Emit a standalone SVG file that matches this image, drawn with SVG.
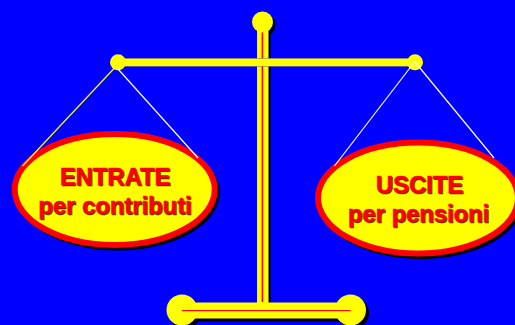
<svg xmlns="http://www.w3.org/2000/svg" width="515" height="325" viewBox="0 0 515 325">
<style>
.y{fill:#ff0}
.s{fill:#000}
.plate{fill:#ff0;stroke:#f00;stroke-width:6}
.shadow{fill:#000}
text{font-family:"Liberation Sans",Arial,sans-serif;font-weight:700;font-size:23.8px;text-anchor:middle;stroke-width:.4}
.tx{fill:#f00;stroke:#f00}
.ts{fill:#5a2a00;stroke:#5a2a00}
</style>
<rect width="515" height="325" fill="#00f"/>
<g id="scale-frame">
<circle class="s" cx="265" cy="25" r="10.500"/>
<rect class="s" x="262" y="30" width="8.500" height="275"/>
<rect class="s" x="182" y="306" width="171" height="15.500"/>
<circle class="s" cx="185" cy="313" r="15.500"/>
<circle class="s" cx="353.500" cy="313" r="15.500"/>
<rect class="y" x="257" y="28" width="11.500" height="276"/>
<rect x="261.600" y="30" width="1.600" height="272" fill="#f00"/>
<circle class="y" cx="262.500" cy="22" r="10.500"/>
<rect class="y" x="118" y="58.300" width="297" height="8" stroke="#6a6a90" stroke-width=".5"/>
<circle class="y" cx="118" cy="62.300" r="8"/>
<circle class="y" cx="415" cy="62.300" r="8"/>
<rect class="y" x="182" y="302.500" width="168" height="16"/>
<circle class="y" cx="182" cy="310" r="15.500"/>
<circle class="y" cx="350.500" cy="310" r="15.500"/>
<rect x="182" y="310" width="168.500" height="1.200" fill="#f00"/>
</g>
<g id="entrate">
<ellipse class="shadow" cx="117.700" cy="192.500" rx="102" ry="58"/>
<ellipse class="plate" cx="114.700" cy="189.500" rx="100" ry="55.500"/>
<text class="ts" x="116" y="186">ENTRATE</text>
<text class="tx" x="115" y="185">ENTRATE</text>
<text class="ts" x="116" y="215">per contributi</text>
<text class="tx" x="115" y="214">per contributi</text>
</g>
<g id="uscite">
<ellipse class="shadow" cx="421" cy="201" rx="102" ry="58"/>
<ellipse class="plate" cx="418" cy="198" rx="100" ry="55.500"/>
<text class="ts" x="420.500" y="194">USCITE</text>
<text class="tx" x="419.500" y="193">USCITE</text>
<text class="ts" x="419.500" y="223">per pensioni</text>
<text class="tx" x="418.500" y="222">per pensioni</text>
</g>
<g id="connectors" fill="none" stroke-width="1.200">
<path d="M114.500 68L22.500 166" stroke="#ff0"/>
<path d="M118 69L198 158" stroke="#fff"/>
<path d="M414.500 62L334.500 166" stroke="#fff"/>
<path d="M415 62L494 158" stroke="#fff"/>
</g>
</svg>
